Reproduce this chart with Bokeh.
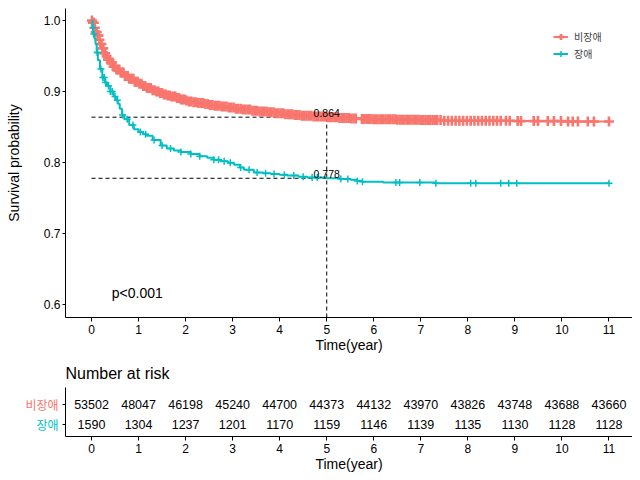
import numpy as np
from bokeh.plotting import figure
from bokeh.models import Range1d, FixedTicker, Legend, LegendItem, Label, NumeralTickFormatter
from bokeh.layouts import column
from bokeh.embed import file_html
from bokeh.resources import INLINE
from bokeh.core.properties import value

# ---------------- data ----------------
groups = ["비장애", "장애"]
colors = ["#F8766D", "#00BFC4"]

# Kaplan-Meier step estimates (time in years, survival probability)
nondis_t = [0, 0.03, 0.06, 0.09, 0.12, 0.155, 0.19, 0.22, 0.26, 0.3, 0.35, 0.4, 0.47, 0.53,
            0.6, 0.7, 0.8, 0.9, 1.0, 1.09, 1.18, 1.27, 1.35, 1.45, 1.54, 1.62, 1.7, 1.8,
            1.89, 2.0, 2.07, 2.16, 2.25, 2.38, 2.5, 2.62, 2.75, 2.9, 3.03, 3.2, 3.4, 3.55,
            3.74, 3.9, 4.1, 4.3, 4.45, 4.7, 5.0, 5.25, 5.5, 5.75, 6.0, 6.5, 7.0, 7.5, 8.0,
            9.0, 10.0, 11.0]
nondis_s = [1.000, 0.997, 0.990, 0.984, 0.979, 0.973, 0.967, 0.961, 0.954, 0.950, 0.945,
            0.941, 0.935, 0.931, 0.927, 0.922, 0.918, 0.914, 0.911, 0.908, 0.905, 0.902,
            0.900, 0.898, 0.896, 0.8945, 0.893, 0.891, 0.889, 0.8875, 0.886, 0.885, 0.884,
            0.8825, 0.881, 0.880, 0.879, 0.8775, 0.876, 0.8748, 0.873, 0.872, 0.871, 0.8697,
            0.868, 0.867, 0.866, 0.865, 0.864, 0.863, 0.862, 0.8615, 0.861, 0.8605, 0.860,
            0.859, 0.859, 0.8585, 0.858, 0.858]

dis_t = [0, 0.02, 0.036, 0.06, 0.085, 0.11, 0.135, 0.18, 0.23, 0.28, 0.33, 0.4, 0.47, 0.52,
         0.56, 0.6, 0.65, 0.7, 0.8, 0.9, 1.0, 1.1, 1.18, 1.3, 1.47, 1.6, 1.75, 1.9, 2.11,
         2.3, 2.46, 2.6, 2.74, 2.9, 3.03, 3.15, 3.24, 3.45, 3.65, 3.81, 4.0, 4.16, 4.4,
         4.59, 5.0, 5.3, 5.5, 5.65, 5.75, 6.2, 7.3, 11.0]
dis_s = [1.000, 0.990, 0.981, 0.975, 0.967, 0.955, 0.944, 0.932, 0.920, 0.913, 0.908,
         0.900, 0.893, 0.888, 0.883, 0.876, 0.867, 0.861, 0.853, 0.847, 0.843, 0.840,
         0.838, 0.832, 0.824, 0.820, 0.817, 0.815, 0.812, 0.809, 0.807, 0.804, 0.802,
         0.800, 0.797, 0.793, 0.790, 0.786, 0.785, 0.784, 0.783, 0.782, 0.780, 0.779,
         0.778, 0.777, 0.776, 0.774, 0.773, 0.772, 0.771, 0.771]

# censoring times
nondis_censor = [0.01, 0.03, 0.05, 0.07, 0.09, 0.11, 0.13, 0.15, 0.17, 0.19, 0.21, 0.23,
                 0.25, 0.27, 0.29, 0.32, 0.35, 0.38, 0.41, 0.44, 0.47, 0.5, 0.53, 0.56,
                 0.59, 0.62, 0.65, 0.68, 0.71, 0.74, 0.77, 0.8, 0.83, 0.86, 0.89, 0.92,
                 0.95, 0.98, 1.02, 1.06, 1.1, 1.14, 1.18, 1.22, 1.26, 1.3, 1.34, 1.38, 1.42,
                 1.46, 1.5, 1.54, 1.58, 1.62, 1.66, 1.7, 1.74, 1.78, 1.82, 1.86, 1.9, 1.94,
                 1.98, 2.02, 2.07, 2.12, 2.17, 2.22, 2.27, 2.32, 2.37, 2.42, 2.47, 2.52,
                 2.57, 2.62, 2.67, 2.72, 2.77, 2.82, 2.87, 2.92, 2.97, 3.02, 3.07, 3.12,
                 3.17, 3.22, 3.27, 3.32, 3.37, 3.42, 3.47, 3.52, 3.57, 3.62, 3.67, 3.72,
                 3.77, 3.82, 3.87, 3.92, 3.97, 4.02, 4.07, 4.12, 4.17, 4.22, 4.27, 4.32,
                 4.37, 4.42, 4.47, 4.52, 4.57, 4.62, 4.67, 4.72, 4.77, 4.82, 4.87, 4.92,
                 4.97, 5.02, 5.07, 5.12, 5.17, 5.22, 5.27, 5.32, 5.37, 5.42, 5.47, 5.52,
                 5.57, 5.62, 5.75, 5.8, 5.85, 5.9, 5.95, 6.0, 6.05, 6.1, 6.15, 6.2, 6.25,
                 6.3, 6.35, 6.4, 6.45, 6.5, 6.55, 6.6, 6.65, 6.7, 6.75, 6.8, 6.85, 6.9,
                 6.95, 7.0, 7.05, 7.1, 7.15, 7.2, 7.25, 7.3, 7.35, 7.42, 7.5, 7.58, 7.66,
                 7.74, 7.82, 7.9, 7.98, 8.06, 8.14, 8.22, 8.3, 8.38, 8.46, 8.54, 8.62,
                 8.7, 8.81, 8.89, 9.06, 9.13, 9.40, 9.49, 9.70, 9.83, 9.98, 10.13, 10.23,
                 10.34, 10.55, 10.68, 11.0]
dis_censor = [0.03, 0.05, 0.12, 0.13, 0.2, 0.24, 0.27, 0.3, 0.36, 0.4, 0.44, 0.5, 0.55,
              0.66, 0.76, 0.88, 1.04, 1.15, 1.33, 1.5, 1.68, 1.9, 2.11, 2.3, 2.6, 2.7,
              2.82, 2.95, 3.17, 3.35, 3.52, 3.7, 3.88, 4.1, 4.3, 4.5, 4.69, 4.8, 5.3,
              5.45, 5.65, 5.76, 6.47, 6.55, 6.98, 7.32, 8.06, 8.17, 8.70, 8.87, 9.04, 11.0]

# 5-year survival
mark_time = 5
mark_surv = [0.864, 0.778]
p_label = "p<0.001"

# risk table
years = list(range(12))
risk_nondis = [53502, 48047, 46198, 45240, 44700, 44373, 44132, 43970, 43826, 43748, 43688, 43660]
risk_dis = [1590, 1304, 1237, 1201, 1170, 1159, 1146, 1139, 1135, 1130, 1128, 1128]
y_ticks = [0.6, 0.7, 0.8, 0.9, 1.0]

# ---------------- styling ----------------
FONT = "Liberation Sans"
KFONT = "Noto Sans CJK KR"
X0, X1 = -0.553, 11.5
Y0, Y1 = 0.582, 1.017


def surv_at(ts, ss, q):
    idx = np.searchsorted(np.asarray(ts), np.asarray(q), side="right") - 1
    return np.asarray(ss)[idx]


def style_axes(fig):
    for ax in (fig.xaxis[0], fig.yaxis[0]):
        ax.axis_line_color = "black"
        ax.axis_line_width = 1
        ax.major_tick_line_color = "black"
        ax.major_tick_in = 0
        ax.major_tick_out = 4
        ax.minor_tick_line_color = None
        ax.major_label_text_font = FONT
        ax.major_label_text_font_size = "12px"
        ax.major_label_text_color = "black"
        ax.axis_label_text_font = FONT
        ax.axis_label_text_font_size = "14px"
        ax.axis_label_text_font_style = "normal"
        ax.axis_label_text_color = "black"
    fig.xgrid.grid_line_color = None
    fig.ygrid.grid_line_color = None
    fig.outline_line_color = None


# ---------------- main KM plot ----------------
p = figure(width=632, height=356, output_backend="svg", toolbar_location=None,
           x_range=Range1d(X0, X1), y_range=Range1d(Y0, Y1),
           min_border_left=65, min_border_right=0, min_border_top=8, min_border_bottom=39)
style_axes(p)
p.xaxis.ticker = FixedTicker(ticks=years)
p.yaxis.ticker = FixedTicker(ticks=y_ticks)
p.yaxis.formatter = NumeralTickFormatter(format="0.0")
p.xaxis.axis_label = "Time(year)"
p.yaxis.axis_label = "Survival probability"
p.xaxis.major_label_standoff = 3
p.yaxis.major_label_standoff = 2
p.yaxis.major_tick_out = 3
p.xaxis.axis_label_standoff = 0
p.yaxis.axis_label_standoff = 19

# guide lines at 5 years
p.segment(x0=[years[0]] * 2, y0=mark_surv, x1=[mark_time] * 2, y1=mark_surv,
          line_color="black", line_width=1, line_dash="4 3")
p.segment(x0=[mark_time], y0=[Y0], x1=[mark_time], y1=[mark_surv[0]],
          line_color="black", line_width=1, line_dash="4 3")

legend_items = []
for name, col, ts, ss, cens, msize, mwidth in [
        (groups[0], colors[0], nondis_t, nondis_s, nondis_censor, 10, 2.6),
        (groups[1], colors[1], dis_t, dis_s, dis_censor, 7, 1.5)]:
    r_line = p.step(x=ts, y=ss, mode="after", line_color=col, line_width=2)
    r_mark = p.scatter(x=cens, y=surv_at(ts, ss, cens), marker="cross", size=msize,
                       line_color=col, line_width=mwidth)
    legend_items.append(LegendItem(label=name, renderers=[r_line, r_mark]))

p.text(x=[mark_time] * 2, y=mark_surv, text=[f"{s:.3f}" for s in mark_surv],
       text_align="center", text_baseline="bottom", text_font=value(FONT),
       text_font_size="10.5px", text_color="black")

p.text(x=[0.43], y=[0.617], text=[p_label], text_align="left", text_baseline="middle",
       text_font=value(FONT), text_font_size="14px", text_color="black")

legend = Legend(items=legend_items, location=(488, 255), border_line_color=None,
                background_fill_alpha=0, padding=0, margin=0, spacing=0,
                glyph_width=15, glyph_height=17, label_height=17, label_standoff=6,
                label_text_font=KFONT, label_text_font_size="10px")
p.add_layout(legend)

# ---------------- risk table ----------------
t = figure(width=632, height=118, output_backend="svg", toolbar_location=None,
           x_range=Range1d(X0, X1), y_range=Range1d(0.381, 2.857),
           min_border_left=65, min_border_right=0, min_border_top=30, min_border_bottom=36)
style_axes(t)
t.title.text = "Number at risk"
t.title.text_font = FONT
t.title.text_font_size = "16px"
t.title.text_font_style = "normal"
t.title.text_color = "black"
t.title.align = "left"
t.title.standoff = 12
t.title.offset = 0
t.xaxis.ticker = FixedTicker(ticks=years)
t.yaxis.ticker = FixedTicker(ticks=[1, 2])
t.yaxis.major_label_overrides = {1: "", 2: ""}
t.yaxis.major_label_text_font_size = "1px"
t.yaxis.major_label_standoff = 0
t.yaxis.major_tick_out = 3
t.xaxis.major_label_standoff = 3
t.xaxis.axis_label = "Time(year)"
t.xaxis.axis_label_standoff = 0

t.text(x=years, y=[2] * len(years), text=[str(v) for v in risk_nondis], text_align="center",
       text_baseline="middle", text_font=value(FONT), text_font_size="12.5px", text_color="black")
t.text(x=years, y=[1] * len(years), text=[str(v) for v in risk_dis], text_align="center",
       text_baseline="middle", text_font=value(FONT), text_font_size="12.5px", text_color="black")

# coloured row labels, placed in the left side panel
for row, name, col in [(2, groups[0], colors[0]), (1, groups[1], colors[1])]:
    t.add_layout(Label(x=X0, y=row, x_offset=-7, text=name, text_align="right",
                       text_baseline="middle", text_color=col, text_font=KFONT,
                       text_font_size="12px"), "left")

layout = column(p, t, spacing=0)
open("out.html", "w").write(file_html(layout, INLINE))
